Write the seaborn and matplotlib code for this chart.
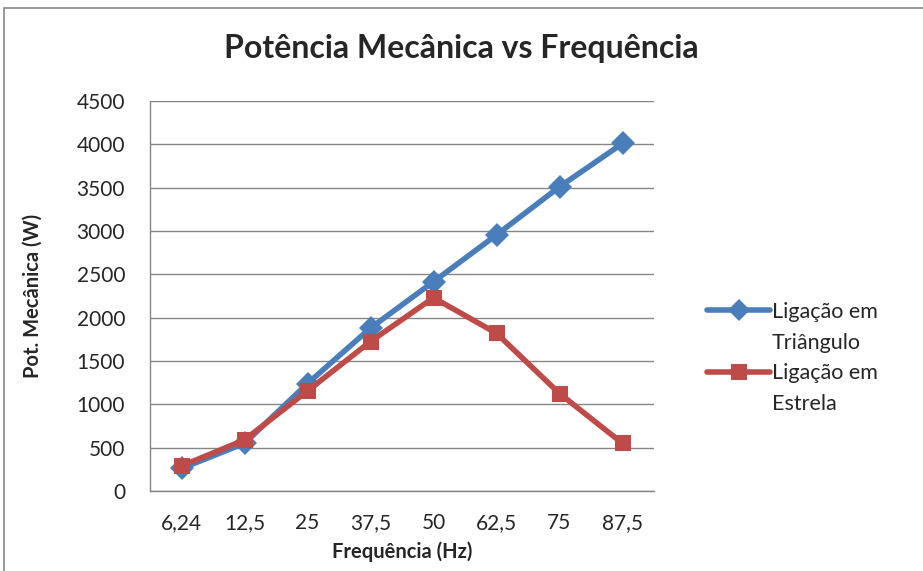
import pandas as pd
import matplotlib
matplotlib.use('Agg')
from matplotlib import pyplot as plt
from matplotlib.lines import Line2D
from matplotlib.patches import Rectangle
import seaborn as sns

# dados
frequencias = ['6,24', '12,5', '25', '37,5', '50', '62,5', '75', '87,5']
pot_triangulo = [260, 550, 1240, 1880, 2415, 2955, 3510, 4010]
pot_estrela = [288, 590, 1155, 1725, 2230, 1820, 1125, 550]

sns.set_style('white')
plt.rcParams['font.family'] = ['Lato', 'DejaVu Sans']

dados = pd.DataFrame({
    'pos': list(range(len(frequencias))) * 2,
    'pot': pot_triangulo + pot_estrela,
    'serie': ['Ligação em Triângulo'] * len(frequencias) + ['Ligação em Estrela'] * len(frequencias),
})

azul = '#4A7EBB'
vermelho = '#BE4B48'
cinza = '#868686'

fig = plt.figure(figsize=(9.23, 5.71), dpi=100)
ax = fig.add_axes([150 / 923, 1 - 491 / 571, (654 - 150) / 923, (491 - 101) / 571])

sns.lineplot(data=dados, x='pos', y='pot', hue='serie', style='serie',
             palette=[azul, vermelho], markers=['D', 's'], dashes=False,
             markersize=12, linewidth=4, markeredgewidth=0, ax=ax, legend=False)

ax.set_xlim(-0.5, 7.5)
ax.set_ylim(0, 4500)
ax.set_yticks(range(0, 4501, 500))
ax.set_xticks(range(len(frequencias)))
ax.set_xticklabels(frequencias)
ax.set_xticks([i - 0.5 for i in range(len(frequencias) + 1)], minor=True)
ax.tick_params(axis='x', which='major', length=0, labelsize=15, pad=16)
ax.tick_params(axis='x', which='minor', length=6, color=cinza, width=1, direction='out')
ax.tick_params(axis='y', which='major', length=6, color=cinza, width=1, direction='out', labelsize=15, pad=12)
ax.grid(axis='y', color=cinza, linewidth=1)
for s in ['top', 'right']:
    ax.spines[s].set_visible(False)
for s in ['left', 'bottom']:
    ax.spines[s].set_color(cinza)
    ax.spines[s].set_linewidth(1)

ax.set_xlabel('Frequência (Hz)', fontsize=14.5, fontweight='bold', labelpad=6)
ax.set_ylabel('Pot. Mecânica (W)', fontsize=14.5, fontweight='bold', labelpad=24)
fig.suptitle('Potência Mecânica vs Frequência', fontsize=23, fontweight='bold', y=0.94)

# legenda: o marcador fica na primeira linha do texto, como no Excel
vazio = Line2D([], [], color='none')
handles = [Line2D([], [], color=azul, lw=4, marker='D', markersize=11, markeredgewidth=0), vazio,
           Line2D([], [], color=vermelho, lw=4, marker='s', markersize=11, markeredgewidth=0), vazio]
fig.legend(handles, ['Ligação em', 'Triângulo', 'Ligação em', 'Estrela'], loc='center left',
           bbox_to_anchor=(688 / 923, 1 - 358 / 571), frameon=False, fontsize=15.5,
           handlelength=2.9, handletextpad=0.1, labelspacing=0.5)

fig.patches.append(Rectangle((4 / 923, -0.1), 1.1, 1 - 8 / 571 + 0.1, transform=fig.transFigure,
                             fill=False, edgecolor=cinza, linewidth=1.2))

fig.savefig('out.png', dpi=100)
